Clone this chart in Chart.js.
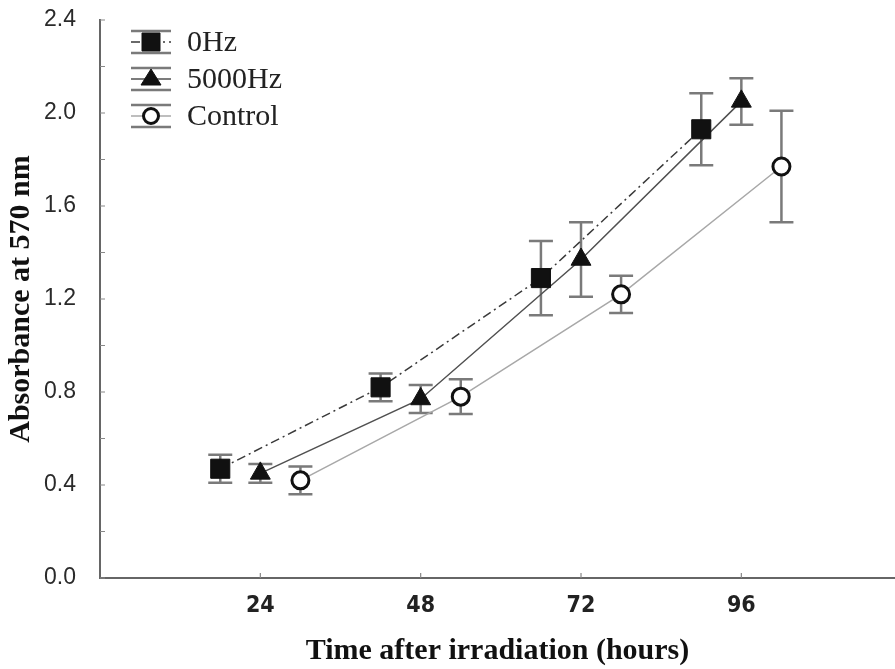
<!DOCTYPE html>
<html>
<head>
<meta charset="utf-8">
<script src="https://cdn.jsdelivr.net/npm/chart.js@4/dist/chart.umd.min.js"></script>
<style>
  body { margin: 0; background: #fff; }
</style>
</head>
<body>
<canvas id="grafico" width="895" height="669"></canvas>
<script>
// valores
const horas0Hz = [18, 42, 66, 90];
const abs0Hz = [0.47, 0.82, 1.29, 1.93];
const err0Hz = [0.06, 0.06, 0.16, 0.155];

const horas5000Hz = [24, 48, 72, 96];
const abs5000Hz = [0.45, 0.77, 1.37, 2.05];
const err5000Hz = [0.04, 0.06, 0.16, 0.10];

const horasControl = [30, 54, 78, 102];
const absControl = [0.42, 0.78, 1.22, 1.77];
const errControl = [0.06, 0.075, 0.08, 0.24];

const ticksHoras = [24, 48, 72, 96];
const ticksAbs = [0, 0.2, 0.4, 0.6, 0.8, 1.0, 1.2, 1.4, 1.6, 1.8, 2.0, 2.2, 2.4];

function puntos(xs, ys) {
  return xs.map((x, i) => ({ x: x, y: ys[i] }));
}

// barras de error + marcas de los ejes hacia adentro + leyenda
const barrasError = {
  id: 'barrasError',
  beforeDatasetsDraw(chart) {
    const ctx = chart.ctx;
    const xS = chart.scales.x;
    const yS = chart.scales.y;
    ctx.save();
    ctx.strokeStyle = '#7a7a7a';
    ctx.lineWidth = 2.5;
    chart.data.datasets.forEach((ds) => {
      ds.data.forEach((p, i) => {
        const px = xS.getPixelForValue(p.x);
        const top = yS.getPixelForValue(p.y + ds.errores[i]);
        const bot = yS.getPixelForValue(p.y - ds.errores[i]);
        ctx.beginPath();
        ctx.moveTo(px, top); ctx.lineTo(px, bot);
        ctx.moveTo(px - 12, top); ctx.lineTo(px + 12, top);
        ctx.moveTo(px - 12, bot); ctx.lineTo(px + 12, bot);
        ctx.stroke();
      });
    });
    ctx.strokeStyle = '#888';
    ctx.lineWidth = 1.2;
    ctx.beginPath();
    ticksAbs.forEach((v) => {
      const py = yS.getPixelForValue(v);
      ctx.moveTo(xS.left, py); ctx.lineTo(xS.left + 5, py);
    });
    ticksHoras.forEach((v) => {
      const px = xS.getPixelForValue(v);
      ctx.moveTo(px, yS.bottom); ctx.lineTo(px, yS.bottom - 5);
    });
    ctx.stroke();
    ctx.restore();
  },
  afterDraw(chart) {
    const ctx = chart.ctx;
    ctx.save();
    chart.data.datasets.forEach((ds, i) => {
      const cy = 42 + i * 37;
      const cx = 151;
      ctx.strokeStyle = '#7a7a7a';
      ctx.lineWidth = 2.5;
      ctx.beginPath();
      ctx.moveTo(131, cy - 11); ctx.lineTo(171, cy - 11);
      ctx.moveTo(131, cy + 11); ctx.lineTo(171, cy + 11);
      ctx.stroke();
      ctx.strokeStyle = ds.borderColor;
      ctx.lineWidth = 1.5;
      ctx.setLineDash(ds.borderDash || []);
      ctx.beginPath();
      ctx.moveTo(131, cy); ctx.lineTo(171, cy);
      ctx.stroke();
      ctx.setLineDash([]);
      ctx.fillStyle = ds.pointBackgroundColor;
      ctx.strokeStyle = ds.pointBorderColor;
      ctx.lineWidth = ds.pointBorderWidth;
      ctx.beginPath();
      if (ds.pointStyle === 'circle') {
        ctx.arc(cx, cy, 7.5, 0, Math.PI * 2);
      } else if (ds.pointStyle === 'rect') {
        ctx.rect(cx - 9, cy - 9, 18, 18);
      } else {
        ctx.moveTo(cx, cy - 10); ctx.lineTo(cx + 10, cy + 6); ctx.lineTo(cx - 10, cy + 6); ctx.closePath();
      }
      ctx.fill();
      ctx.stroke();
      ctx.fillStyle = '#222';
      ctx.font = '30px "Liberation Serif", "Times New Roman", serif';
      ctx.textBaseline = 'middle';
      ctx.fillText(ds.label, 187, cy + 1);
    });
    ctx.restore();
  }
};

const grafica = new Chart(document.getElementById('grafico'), {
  type: 'line',
  data: {
    datasets: [
      {
        label: '0Hz',
        data: puntos(horas0Hz, abs0Hz),
        errores: err0Hz,
        borderColor: '#3a3a3a',
        borderWidth: 1.5,
        borderDash: [9, 4, 2, 4],
        pointStyle: 'rect',
        pointRadius: 13.5,
        pointBackgroundColor: '#111',
        pointBorderColor: '#111',
        pointBorderWidth: 1,
      },
      {
        label: '5000Hz',
        data: puntos(horas5000Hz, abs5000Hz),
        errores: err5000Hz,
        borderColor: '#505050',
        borderWidth: 1.5,
        pointStyle: 'triangle',
        pointRadius: 11.5,
        pointBackgroundColor: '#111',
        pointBorderColor: '#111',
        pointBorderWidth: 1,
      },
      {
        label: 'Control',
        data: puntos(horasControl, absControl),
        errores: errControl,
        borderColor: '#a8a8a8',
        borderWidth: 1.5,
        pointStyle: 'circle',
        pointRadius: 8.5,
        pointBackgroundColor: '#fff',
        pointBorderColor: '#111',
        pointBorderWidth: 3,
      },
    ],
  },
  options: {
    responsive: false,
    animation: false,
    layout: { autoPadding: false, padding: { top: 20, right: 0, left: 0, bottom: 0 } },
    plugins: { legend: { display: false }, tooltip: { enabled: false } },
    scales: {
      x: {
        type: 'linear',
        min: 0,
        max: 119,
        afterBuildTicks: (s) => { s.ticks = ticksHoras.map((v) => ({ value: v })); },
        afterFit: (s) => { s.height = 91; s.paddingLeft = 0; s.paddingRight = 0; },
        grid: { display: false, drawTicks: false },
        border: { display: true, color: '#666', width: 2 },
        ticks: {
          padding: 14,
          color: '#222',
          font: { family: '"Liberation Sans Narrow", "DejaVu Sans Condensed", "Liberation Sans", Arial', size: 23, weight: 'bold' },
        },
        title: {
          display: true,
          text: 'Time after irradiation (hours)',
          color: '#111',
          padding: { top: 0, bottom: 0 },
          font: { family: '"Liberation Serif", "Times New Roman", serif', size: 30, weight: 'bold' },
        },
      },
      y: {
        min: 0,
        max: 2.4,
        afterBuildTicks: (s) => { s.ticks = ticksAbs.map((v) => ({ value: v })); },
        afterFit: (s) => { s.width = 100; s.paddingTop = 0; s.paddingBottom = 0; },
        grid: { display: false, drawTicks: false },
        border: { display: true, color: '#666', width: 2 },
        ticks: {
          padding: 24,
          color: '#2a2a2a',
          font: { family: '"Liberation Sans", Arial', size: 23 },
          callback: (v) => (Math.round(v * 10) % 4 === 0 ? v.toFixed(1) : ''),
        },
        title: {
          display: true,
          text: 'Absorbance at 570 nm',
          color: '#111',
          padding: { top: 3, bottom: 0 },
          font: { family: '"Liberation Serif", "Times New Roman", serif', size: 30, weight: 'bold' },
        },
      },
    },
  },
  plugins: [barrasError],
});
</script>
</body>
</html>
